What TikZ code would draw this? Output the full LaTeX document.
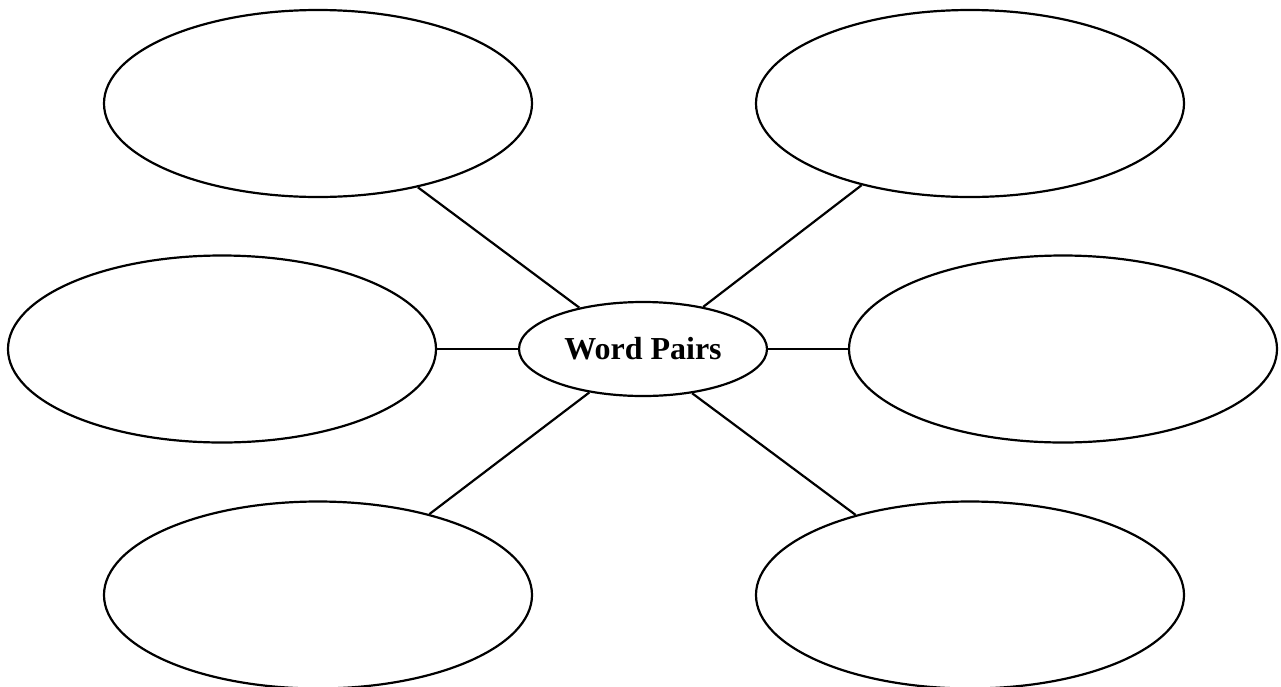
\documentclass[tikz,border=0pt]{standalone}
\usepackage{fontspec}
\setmainfont{Liberation Serif}
\usetikzlibrary{shapes.geometric}
\begin{document}
\begin{tikzpicture}[x=1pt,y=-1pt,
  bubble/.style={draw,ellipse,line width=2.2pt,inner sep=0pt,minimum width=428pt,minimum height=187pt},
  hub/.style={draw,ellipse,line width=2.2pt,inner sep=0pt,minimum width=248pt,minimum height=94pt,font=\fontsize{32}{38}\selectfont\bfseries},
  link/.style={line width=2.2pt}]
\useasboundingbox (0,0) rectangle (1281,686);
\node[hub] (c) at (643,349) {Word Pairs};
\node[bubble] (tl) at (318,103.5) {};
\node[bubble] (tr) at (970,103.5) {};
\node[bubble] (ml) at (222,349) {};
\node[bubble] (mr) at (1063,349) {};
\node[bubble] (bl) at (318,595) {};
\node[bubble] (br) at (970,595) {};
\draw[link] (c.147) -- (tl.320.7);
\draw[link] (c.35) -- (tr.217.4);
\draw[link] (c.219.3) -- (bl.36.7);
\draw[link] (c.318) -- (br.145.5);
\draw[link] (c.west) -- (ml.east);
\draw[link] (c.east) -- (mr.west);
\end{tikzpicture}
\end{document}
